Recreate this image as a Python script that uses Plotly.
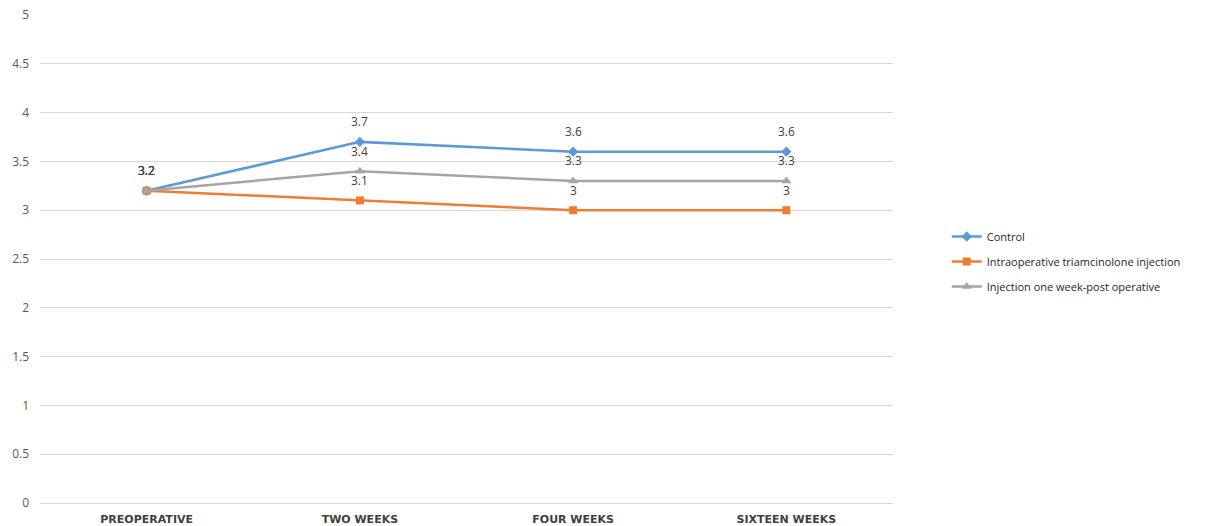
import plotly.graph_objects as go

categories = ["PREOPERATIVE", "TWO WEEKS", "FOUR WEEKS", "SIXTEEN WEEKS"]
control = [3.2, 3.7, 3.6, 3.6]
intraop = [3.2, 3.1, 3.0, 3.0]
one_week = [3.2, 3.4, 3.3, 3.3]
y_ticks = [0, 0.5, 1, 1.5, 2, 2.5, 3, 3.5, 4, 4.5, 5]

series = [
    ("Control", control, "#5B9BD5", "diamond", 8),
    ("Intraoperative triamcinolone injection", intraop, "#ED7D31", "square", 8),
    ("Injection one week-post operative", one_week, "#A5A5A5", "triangle-up", 9),
]

fig = go.Figure()
annotations = []
for i, (name, vals, color, sym, ms) in enumerate(series):
    fig.add_trace(go.Scatter(
        x=categories, y=vals, name=name, mode="lines+markers",
        legendgroup=f"g{i}",
        line=dict(color=color, width=2.5),
        marker=dict(symbol=sym, size=ms, color=color),
    ))
    for c, v in zip(categories, vals):
        annotations.append(dict(
            x=c, y=v, text=f"{v:g}", showarrow=False, yshift=20,
            font=dict(family="Open Sans, Liberation Sans, sans-serif", size=12, color="#404040"),
        ))

fig.update_layout(
    width=1206, height=526,
    margin=dict(l=40, r=313, t=15, b=23),
    paper_bgcolor="white", plot_bgcolor="white",
    showlegend=True,
    legend=dict(
        x=1.063, y=0.495, xanchor="left", yanchor="middle",
        font=dict(family="Open Sans, Liberation Sans, sans-serif", size=11, color="#262626"),
        tracegroupgap=6, itemwidth=30,
        bgcolor="rgba(0,0,0,0)",
    ),
    annotations=annotations,
    xaxis=dict(
        type="category", showgrid=False, showline=True, linecolor="#D9D9D9", linewidth=1,
        ticks="", range=[-0.5, 3.5], automargin=False, ticklabelstandoff=6,
        tickfont=dict(family="DejaVu Sans, sans-serif", size=11, color="#404040", weight="bold"),
    ),
    yaxis=dict(
        range=[0, 5], tickvals=y_ticks, ticktext=[f"{t:g}" for t in y_ticks],
        showgrid=True, gridcolor="#D9D9D9", gridwidth=1, zeroline=False,
        showline=False, ticks="", ticklabelstandoff=10, automargin=False,
        tickfont=dict(family="Open Sans, Liberation Sans, sans-serif", size=12, color="#595959"),
    ),
)

fig.write_html("out.html")
